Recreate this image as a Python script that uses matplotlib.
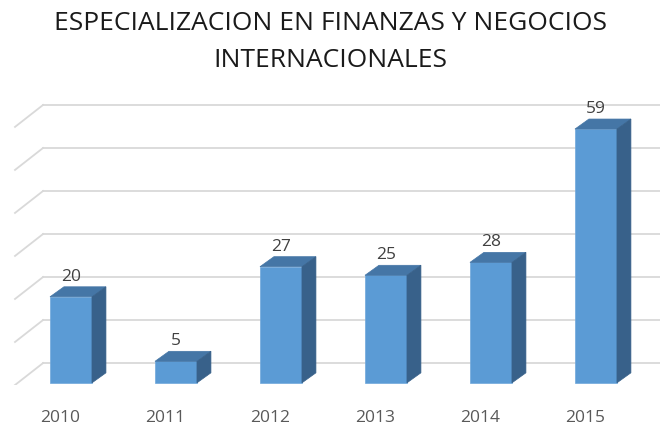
import matplotlib
matplotlib.use("Agg")
import matplotlib.pyplot as plt
from matplotlib.patches import Polygon

# ---------- data ----------
years = ["2010", "2011", "2012", "2013", "2014", "2015"]
values = [20, 5, 27, 25, 28, 59]
grid_values = [0, 10, 20, 30, 40, 50, 60]
title = "ESPECIALIZACION EN FINANZAS Y NEGOCIOS\nINTERNACIONALES"

# ---------- style ----------
FRONT = "#5B9BD5"
TOP = "#4576A6"
SIDE = "#38618A"
GRID = "#D9D9D9"
TEXT = "#404040"
TICK = "#595959"
FONT = ["Open Sans", "DejaVu Sans"]

# pseudo-3D depth offsets, in data units
bar_w = 0.4
bar_dx, bar_dy = 0.133, 2.33      # bar depth
wall_dx, wall_dy = 0.267, 5.1     # floor front edge -> back wall
floor_x0 = -0.533                 # front end of the diagonal grid lines

plt.rcParams["font.family"] = FONT

fig = plt.figure(figsize=(6.6, 4.28), dpi=100)
ax = fig.add_axes([0, 43 / 428, 1, 1 - 43 / 428])
ax.set_xlim(-0.676, 5.610)
ax.set_ylim(-0.5, 89.0)

# back wall grid lines plus their diagonal floor/side edges
for g in grid_values:
    yb = g + wall_dy - 0.5
    ax.plot([floor_x0, floor_x0 + wall_dx], [g - 0.5, yb], color=GRID, lw=1.3, zorder=1)
    ax.plot([floor_x0 + wall_dx, 10], [yb, yb], color=GRID, lw=1.3, zorder=1)

# front faces
xs = list(range(len(values)))
ax.bar(xs, values, width=bar_w, color=FRONT, edgecolor="#6FA8DC", linewidth=0.5, zorder=3)

# top and side faces
for x, v in zip(xs, values):
    l, r = x - bar_w / 2, x + bar_w / 2
    top = Polygon([(l, v), (r, v), (r + bar_dx, v + bar_dy), (l + bar_dx, v + bar_dy)],
                  closed=True, facecolor=TOP, edgecolor=TOP, lw=0.5, zorder=3)
    side = Polygon([(r, 0), (r + bar_dx, bar_dy), (r + bar_dx, v + bar_dy), (r, v)],
                   closed=True, facecolor=SIDE, edgecolor=SIDE, lw=0.5, zorder=3)
    ax.add_patch(top)
    ax.add_patch(side)
    ax.text(x, v + bar_dy + 0.5, str(v), ha="center", va="bottom",
            fontsize=12.5, color=TEXT, zorder=4)

ax.set_xticks([x - 0.1 for x in xs])
ax.set_xticklabels(years, fontsize=12.5, color=TICK)
ax.tick_params(axis="x", length=0, pad=18)
ax.set_yticks([])
for s in ax.spines.values():
    s.set_visible(False)
ax.patch.set_alpha(0)

fig.text(0.5, 1 - 42 / 428, title, ha="center", va="center", fontsize=19,
         color="#1A1A1A", linespacing=1.58, multialignment="center")

fig.savefig("out.png", dpi=100)
